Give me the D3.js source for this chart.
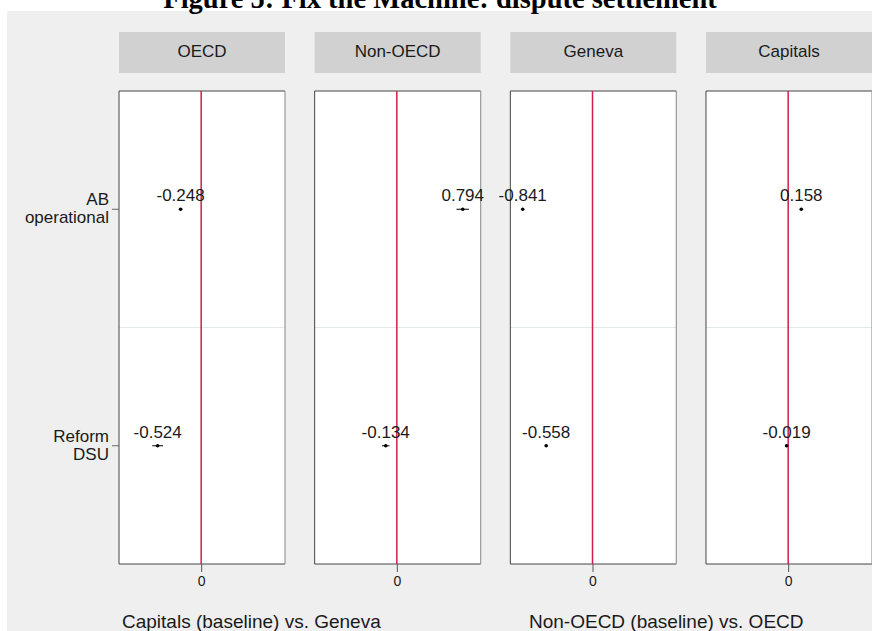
<!DOCTYPE html>
<html>
<head>
<meta charset="utf-8">
<script src="https://cdn.jsdelivr.net/npm/d3@7"></script>
<style>
  body { margin: 0; background: #fff; }
  svg text { font-family: "Liberation Sans", Arial, sans-serif; fill: #1a1a1a; }
</style>
</head>
<body>
<div id="chart"></div>
<script>
// 数据
const panels = ["OECD", "Non-OECD", "Geneva", "Capitals"];
const rows = ["AB operational", "Reform DSU"];
const rowLines = [["AB", "operational"], ["Reform", "DSU"]];
const estAB = [-0.248, 0.794, -0.841, 0.158];
const estReform = [-0.524, -0.134, -0.558, -0.019];
const ciAB = [0.02, 0.075, 0.015, 0.015];
const ciReform = [0.065, 0.045, 0.015, 0.015];
const xTicks = [0];
const footLabels = ["Capitals (baseline) vs. Geneva", "Non-OECD (baseline) vs. OECD"];
const title = "Figure 5: Fix the Machine: dispute settlement";

const width = 872, height = 631;
const panelTop = 91, panelBottom = 564;
const stripTop = 32, stripH = 41;

// 每个面板的点
let points = [];
panels.forEach((p, i) => {
    points.push({panel: p, row: rows[0], est: estAB[i], ci: ciAB[i]});
    points.push({panel: p, row: rows[1], est: estReform[i], ci: ciReform[i]});
});

const svg = d3.select("#chart").append("svg")
    .attr("width", width).attr("height", height);

// 灰色背景
svg.append("rect").attr("x", 7).attr("y", 11)
    .attr("width", width - 7).attr("height", height - 11).attr("fill", "#efefef");

svg.append("text")
    .attr("x", 440).attr("y", 8)
    .attr("text-anchor", "middle")
    .style("font-family", "'Liberation Serif', 'Times New Roman', serif")
    .style("font-weight", "bold")
    .style("font-size", "28.5px")
    .style("fill", "#000")
    .text(title);

// 比例尺
const panelX = d3.scaleBand().domain(panels).range([119, 872]).paddingInner(0.1516).paddingOuter(0);
const pw = panelX.bandwidth();
const xScale = d3.scaleLinear().domain([-0.99, 1.01]).range([0, pw]);
const yScale = d3.scaleBand().domain(rows).range([0, panelBottom - panelTop]);

const pg = svg.selectAll(".panel").data(panels).enter().append("g")
    .attr("class", "panel")
    .attr("transform", d => `translate(${panelX(d)},0)`);

// 标题条
pg.append("rect").attr("x", 0).attr("y", stripTop).attr("width", pw).attr("height", stripH)
    .attr("fill", "#d1d1d1");
pg.append("text").attr("x", pw / 2).attr("y", stripTop + 25)
    .attr("text-anchor", "middle").style("font-size", "17px").text(d => d);

const inner = pg.append("g").attr("transform", `translate(0,${panelTop})`);
inner.append("rect").attr("width", pw).attr("height", panelBottom - panelTop).attr("fill", "#fff");

// 行之间的网格线
inner.append("line")
    .attr("x1", 0).attr("x2", pw)
    .attr("y1", yScale(rows[1])).attr("y2", yScale(rows[1]))
    .attr("stroke", "#e2e8e8").attr("stroke-width", 1.2);

// 边框
inner.append("path")
    .attr("d", `M${pw},0H0V${panelBottom - panelTop}H${pw}`)
    .attr("fill", "none").attr("stroke", "#444").attr("stroke-width", 1);
inner.append("line")
    .attr("x1", pw).attr("x2", pw).attr("y1", 0).attr("y2", panelBottom - panelTop)
    .attr("stroke", "#999").attr("stroke-width", 1.2);

// 零线
inner.append("line")
    .attr("x1", xScale(0)).attr("x2", xScale(0))
    .attr("y1", 0).attr("y2", panelBottom - panelTop)
    .attr("stroke", "#cf1f4a").attr("stroke-width", 1.5);

// x 轴
inner.append("g")
    .attr("transform", `translate(0,${panelBottom - panelTop})`)
    .each(function () {
        const ax = d3.axisBottom(xScale).tickValues(xTicks).tickSize(8).tickPadding(4).tickFormat(d3.format("d"));
        const a = d3.select(this).call(ax);
        a.select(".domain").remove();
        a.selectAll(".tick line").attr("stroke", "#555");
        a.selectAll(".tick text").style("font-size", "14px").attr("fill", "#333")
            .style("font-family", "'Liberation Sans', Arial, sans-serif");
    });

// 误差线和点
const pt = inner.selectAll(".pt").data(p => points.filter(e => e.panel === p)).enter().append("g")
    .attr("class", "pt")
    .attr("transform", d => `translate(0,${yScale(d.row) + yScale.bandwidth() / 2})`);
pt.append("line")
    .attr("x1", d => xScale(d.est - d.ci)).attr("x2", d => xScale(d.est + d.ci))
    .attr("y1", 0).attr("y2", 0).attr("stroke", "#000").attr("stroke-width", 1);
pt.append("circle").attr("cx", d => xScale(d.est)).attr("cy", 0).attr("r", 1.8).attr("fill", "#000");
pt.append("text")
    .attr("x", d => xScale(d.est)).attr("y", -8)
    .attr("text-anchor", "middle").style("font-size", "17px")
    .text(d => d3.format(".3f")(d.est).replace("−", "-"));

// y 轴（只在第一个面板）
const yAxisG = svg.append("g").attr("transform", `translate(${panelX(panels[0])},${panelTop})`);
const yt = yAxisG.selectAll(".ytick").data(rows).enter().append("g")
    .attr("transform", d => `translate(0,${yScale(d) + yScale.bandwidth() / 2})`);
yt.append("line").attr("x1", -7).attr("x2", 0).attr("stroke", "#666");
yt.append("text").attr("text-anchor", "end").style("font-size", "17px")
    .selectAll("tspan").data((d, i) => rowLines[i]).enter().append("tspan")
    .attr("x", -10).attr("y", (d, j) => j === 0 ? -4 : 14)
    .text(d => d);

// 底部说明
svg.selectAll(".foot").data(footLabels).enter().append("text")
    .attr("x", (d, i) => i === 0 ? 122 : 529).attr("y", 628)
    .style("font-size", "19px").text(d => d);
</script>
</body>
</html>
